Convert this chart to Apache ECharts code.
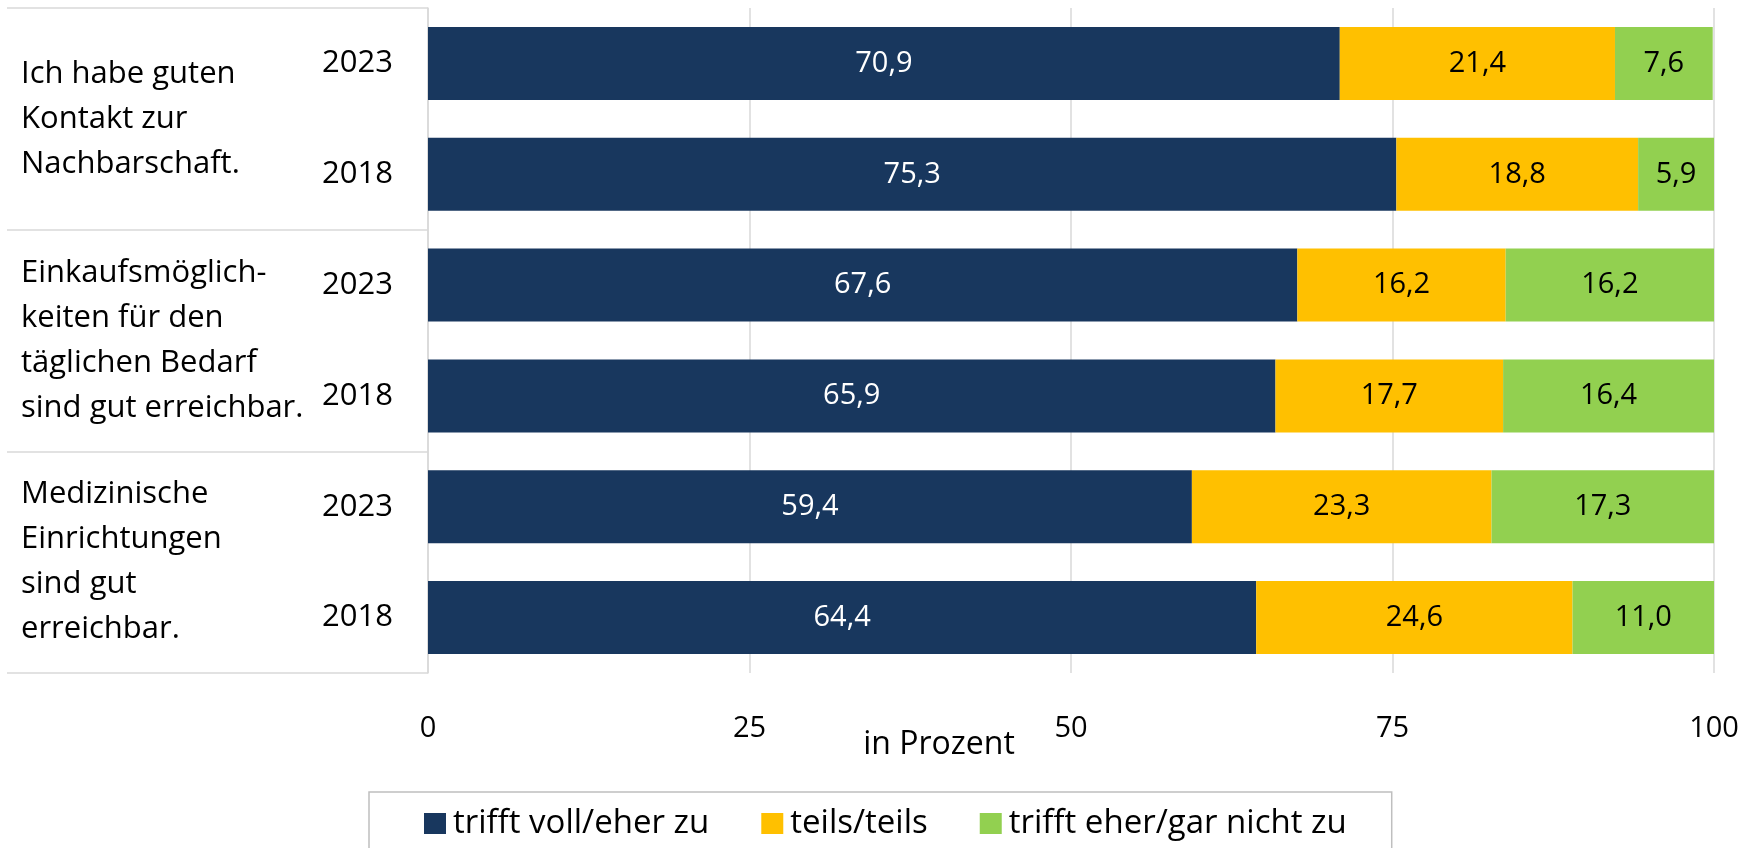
<!DOCTYPE html>
<html>
<head>
<meta charset="utf-8">
<script src="https://cdn.jsdelivr.net/npm/echarts@6/dist/echarts.min.js"></script>
<style>
  html, body { margin: 0; padding: 0; background: #fff; }
  #main { width: 1757px; height: 848px; }
</style>
</head>
<body>
<div id="main"></div>
<script>
var years = ['2023', '2018', '2023', '2018', '2023', '2018'];
var groups = [
  'Ich habe guten\nKontakt zur\nNachbarschaft.',
  'Einkaufsmöglich-\nkeiten für den\ntäglichen Bedarf\nsind gut erreichbar.',
  'Medizinische\nEinrichtungen\nsind gut\nerreichbar.'
];
var seriesNames = ['trifft voll/eher zu', 'teils/teils', 'trifft eher/gar nicht zu'];
var zuValues = [70.9, 75.3, 67.6, 65.9, 59.4, 64.4];
var teilsValues = [21.4, 18.8, 16.2, 17.7, 23.3, 24.6];
var nichtValues = [7.6, 5.9, 16.2, 16.4, 17.3, 11.0];
var xTicks = [0, 25, 50, 75, 100];

var colors = ['#18375E', '#FFC000', '#92D050'];
var labelColors = ['#ffffff', '#000000', '#000000'];
var font = '"Open Sans", "Noto Sans", sans-serif';

var chart = echarts.init(document.getElementById('main'));

function fmt(p) {
  return p.value.toFixed(1).replace('.', ',');
}

var dataSets = [zuValues, teilsValues, nichtValues];
var series = seriesNames.map(function (name, i) {
  return {
    name: name,
    type: 'bar',
    stack: 'total',
    barWidth: 73,
    data: dataSets[i],
    itemStyle: { color: colors[i] },
    label: {
      show: true,
      position: 'inside',
      formatter: fmt,
      color: labelColors[i],
      fontSize: 29,
      fontFamily: font
    }
  };
});

var option = {
  animation: false,
  textStyle: { fontFamily: font },
  grid: { left: 428, right: 43, top: 8, bottom: 175 },
  xAxis: {
    type: 'value',
    min: xTicks[0],
    max: xTicks[xTicks.length - 1],
    interval: 25,
    name: 'in Prozent',
    nameLocation: 'middle',
    nameGap: 56,
    nameMoveOverlap: false,
    nameTextStyle: { fontSize: 32, color: '#000', fontFamily: font, padding: [0, 264, 0, 0] },
    axisLine: { show: false },
    axisTick: { show: false },
    splitLine: { show: true, lineStyle: { color: '#d9d9d9', width: 1.5 } },
    axisLabel: { fontSize: 29, color: '#000', margin: 41, fontFamily: font }
  },
  yAxis: [
    {
      type: 'category',
      data: years,
      inverse: true,
      position: 'left',
      axisLine: { show: true, lineStyle: { color: '#d9d9d9', width: 1.5 } },
      axisTick: { show: false },
      axisLabel: { fontSize: 31, color: '#000', margin: 35, fontFamily: font }
    },
    {
      type: 'category',
      data: groups,
      inverse: true,
      position: 'left',
      axisLine: { show: false },
      axisTick: { show: true, length: 421, lineStyle: { color: '#d9d9d9', width: 1.5 } },
      axisLabel: {
        align: 'left',
        margin: 407,
        fontSize: 31,
        lineHeight: 45,
        color: '#000',
        fontFamily: font
      }
    }
  ],
  legend: {
    left: 369,
    top: 792,
    width: 1200,
    data: seriesNames,
    icon: 'rect',
    itemWidth: 22,
    itemHeight: 21,
    itemGap: 52,
    padding: [15, 45, 30, 55],
    borderColor: '#bfbfbf',
    borderWidth: 1.5,
    textStyle: { fontSize: 33, color: '#000', fontFamily: font, padding: [0, 0, 0, 2] }
  },
  series: series
};

chart.setOption(option);
</script>
</body>
</html>
